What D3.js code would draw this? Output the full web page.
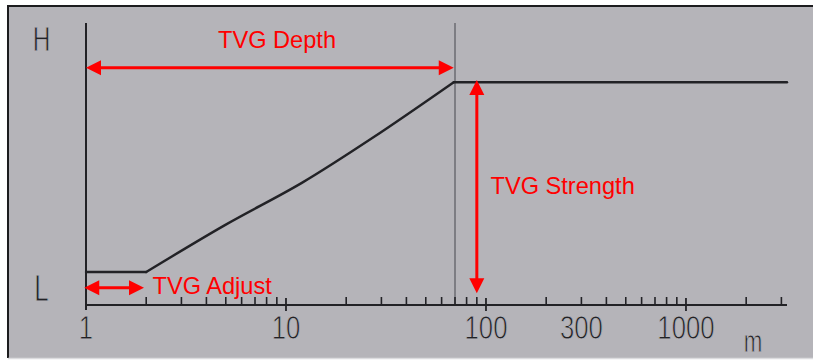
<!DOCTYPE html>
<html>
<head>
<meta charset="utf-8">
<script src="https://cdn.jsdelivr.net/npm/d3@7/dist/d3.min.js"></script>
<style>
  html, body { margin: 0; padding: 0; background: #ffffff; }
  svg { display: block; }
</style>
</head>
<body>
<svg id="chart" width="813" height="360"></svg>
<script>
// ---- data ----
const depths = [1, 2, 5, 12, 27, 69, 3200];          // metres
const gains  = [11.7, 11.7, 28.5, 43.3, 59.2, 79, 79]; // relative gain (L..H)
const majorTicks = [1, 10, 100, 1000];
const minorTicks = [2, 3, 4, 5, 6, 7, 8, 9, 20, 30, 40, 50, 60, 70, 80, 90,
                    200, 300, 400, 500, 600, 700, 800, 900, 2000, 3000];
const tickLabels = [1, 10, 100, 300, 1000];
const depthMarker = 70;
const yLabels = ["H", "L"];
// annotation arrows (depth / gain coordinates)
const arrowDepth    = {x1: 1,    y1: 84.1, x2: 69,   y2: 84.1, label: "TVG Depth"};
const arrowStrength = {x1: 90,   y1: 79.8, x2: 90,   y2: 4.2,  label: "TVG Strength"};
const arrowAdjust   = {x1: 0.98, y1: 6.1,  x2: 1.95, y2: 6.1,  label: "TVG Adjust"};

// ---- layout ----
const svg = d3.select("#chart");
const x = d3.scaleLog().domain([1, 3200]).range([86, 787]);
const y = d3.scaleLinear().domain([0, 100]).range([305, 23]);
const ink = "#222226";
const bg = "#b5b4b9";
const font = "'Liberation Sans', Arial, sans-serif";

// panel
svg.append("rect").attr("x", 8).attr("y", 6).attr("width", 805).attr("height", 352).attr("fill", bg);
svg.append("line").attr("x1", 7).attr("x2", 813).attr("y1", 6).attr("y2", 6).attr("stroke", "#1c1c1e").attr("stroke-width", 2);
svg.append("line").attr("x1", 8).attr("x2", 8).attr("y1", 5).attr("y2", 358).attr("stroke", "#1c1c1e").attr("stroke-width", 2);
svg.append("line").attr("x1", 8).attr("x2", 813).attr("y1", 358.5).attr("y2", 358.5).attr("stroke", "#dcdcdf").attr("stroke-width", 1.5);

// vertical marker
svg.append("line")
  .attr("x1", x(depthMarker)).attr("x2", x(depthMarker))
  .attr("y1", y(100)).attr("y2", y(0))
  .attr("stroke", "#7d7d83").attr("stroke-width", 2);

// axes
svg.append("line").attr("x1", x(1)).attr("x2", x(3200)).attr("y1", y(0)).attr("y2", y(0))
  .attr("stroke", ink).attr("stroke-width", 2);
svg.append("line").attr("x1", x(1)).attr("x2", x(1)).attr("y1", y(100)).attr("y2", y(0) + 5)
  .attr("stroke", ink).attr("stroke-width", 2);

svg.selectAll(".minor").data(minorTicks).join("line")
  .attr("x1", d => x(d)).attr("x2", d => x(d))
  .attr("y1", y(0) - 8).attr("y2", y(0))
  .attr("stroke", ink).attr("stroke-width", 1.6);
svg.selectAll(".major").data(majorTicks.slice(1)).join("line")
  .attr("x1", d => x(d)).attr("x2", d => x(d))
  .attr("y1", y(0) - 7).attr("y2", y(0) + 6)
  .attr("stroke", ink).attr("stroke-width", 1.8);

function thin(sel) {
  return sel.attr("stroke", bg).attr("stroke-width", 0.9).attr("paint-order", "normal");
}

thin(svg.selectAll(".tl").data(tickLabels).join("text")
  .attr("transform", d => `translate(${x(d)},339) scale(0.78,1)`)
  .attr("text-anchor", "middle")
  .attr("font-family", font)
  .attr("font-size", 33)
  .attr("fill", ink)
  .text(d => d));

thin(svg.append("text")
  .attr("transform", `translate(753,351.5) scale(0.72,1)`)
  .attr("text-anchor", "middle")
  .attr("font-family", font)
  .attr("font-size", 31)
  .attr("fill", ink)
  .text("m"));

thin(svg.selectAll(".yl").data(yLabels).join("text")
  .attr("transform", d => `translate(41.5,${d === "H" ? 51 : 301}) scale(0.7,1)`)
  .attr("text-anchor", "middle")
  .attr("font-family", font)
  .attr("font-size", d => d === "H" ? 35 : 37)
  .attr("fill", ink)
  .text(d => d));

// curve: flat start, smooth rise, flat end
const pts = d3.zip(depths, gains);
const lin = d3.line().x(d => x(d[0])).y(d => y(d[1]));
const smooth = d3.line().x(d => x(d[0])).y(d => y(d[1])).curve(d3.curveCatmullRom.alpha(0.5));
[[pts.slice(0, 2), lin], [pts.slice(1, 6), smooth], [pts.slice(5), lin]].forEach(([seg, gen]) => {
  svg.append("path")
    .attr("d", gen(seg))
    .attr("fill", "none")
    .attr("stroke", ink)
    .attr("stroke-width", 2.4)
    .attr("stroke-linecap", "round");
});

// arrows
const red = "#ff0000";
function arrowHead(tipX, tipY, dx, dy) {
  const L = 15, W = 7.5;
  const bx = tipX - dx * L, by = tipY - dy * L;
  const px = -dy * W, py = dx * W;
  return `M${tipX},${tipY}L${bx + px},${by + py}L${bx - px},${by - py}Z`;
}
function drawArrow(a) {
  const X1 = x(a.x1), Y1 = y(a.y1), X2 = x(a.x2), Y2 = y(a.y2);
  const len = Math.hypot(X2 - X1, Y2 - Y1);
  const ux = (X2 - X1) / len, uy = (Y2 - Y1) / len;
  svg.append("line")
    .attr("x1", X1 + ux * 12).attr("y1", Y1 + uy * 12)
    .attr("x2", X2 - ux * 12).attr("y2", Y2 - uy * 12)
    .attr("stroke", red).attr("stroke-width", 3);
  svg.append("path").attr("d", arrowHead(X2, Y2, ux, uy)).attr("fill", red);
  svg.append("path").attr("d", arrowHead(X1, Y1, -ux, -uy)).attr("fill", red);
}
[arrowDepth, arrowStrength, arrowAdjust].forEach(drawArrow);

const redText = [
  {t: arrowDepth.label,    px: 218, py: 48},
  {t: arrowStrength.label, px: 490.5, py: 194},
  {t: arrowAdjust.label,   px: 152.5, py: 294}
];
svg.selectAll(".rt").data(redText).join("text")
  .attr("x", d => d.px).attr("y", d => d.py)
  .attr("font-family", font)
  .attr("font-size", 23.6)
  .attr("fill", red)
  .text(d => d.t);
</script>
</body>
</html>
